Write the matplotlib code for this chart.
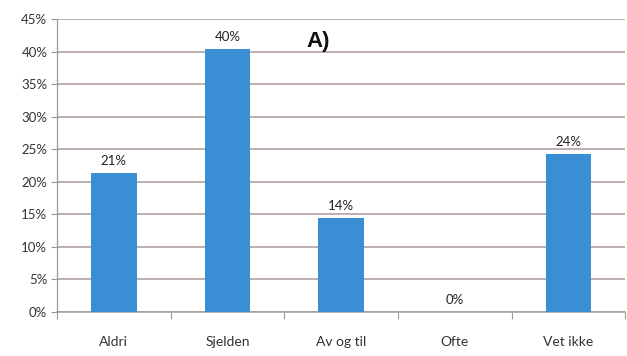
import matplotlib
matplotlib.use("Agg")
import matplotlib.pyplot as plt
from matplotlib.ticker import FixedLocator

categories = ["Aldri", "Sjelden", "Av og til", "Ofte", "Vet ikke"]
values = [21.4, 40.4, 14.4, 0.0, 24.3]
y_ticks = [0, 5, 10, 15, 20, 25, 30, 35, 40, 45]
title = "A)"

plt.rcParams["font.family"] = ["Lato", "DejaVu Sans"]

fig = plt.figure(figsize=(6.27, 3.56), dpi=100)
ax = fig.add_axes([0.091, 0.1236, 0.906, 0.823])

x = list(range(len(categories)))
ax.bar(x, values, width=0.4, color="#3a8ed3", zorder=3)

for xi, v in zip(x, values):
    ax.text(xi, v + 0.9, f"{v:.0f}%", ha="center", va="bottom",
            fontsize=9.5, color="#222222", zorder=4)

ax.set_xlim(-0.5, len(categories) - 0.5)
ax.set_ylim(0, 45)
ax.set_yticks(y_ticks)
ax.set_yticklabels([f"{t}%" for t in y_ticks], fontsize=9.5, color="#333333")
ax.set_xticks(x)
ax.set_xticklabels(categories, fontsize=10, color="#333333")
ax.tick_params(axis="x", length=0, pad=17)
ax.xaxis.set_minor_locator(FixedLocator([i + 0.5 for i in range(-1, len(categories))]))
ax.tick_params(axis="x", which="minor", length=5, color="#9a9a9a", width=0.8)
ax.tick_params(axis="y", length=4, color="#9a9a9a", width=0.8, pad=3)

ax.grid(axis="y", color="#a99a94", linewidth=1.1, zorder=0)
for side in ("top", "right"):
    ax.spines[side].set_visible(False)
ax.spines["left"].set_color("#9a9a9a")
ax.spines["bottom"].set_color("#a99a94")
ax.spines["left"].set_linewidth(0.9)
ax.spines["bottom"].set_linewidth(1.1)

ax.text(1.80, 41.6, title, ha="center", va="center", fontsize=16,
        fontweight="bold", color="#111111", family=["Liberation Sans", "DejaVu Sans"])

fig.savefig("out.png", dpi=100)
